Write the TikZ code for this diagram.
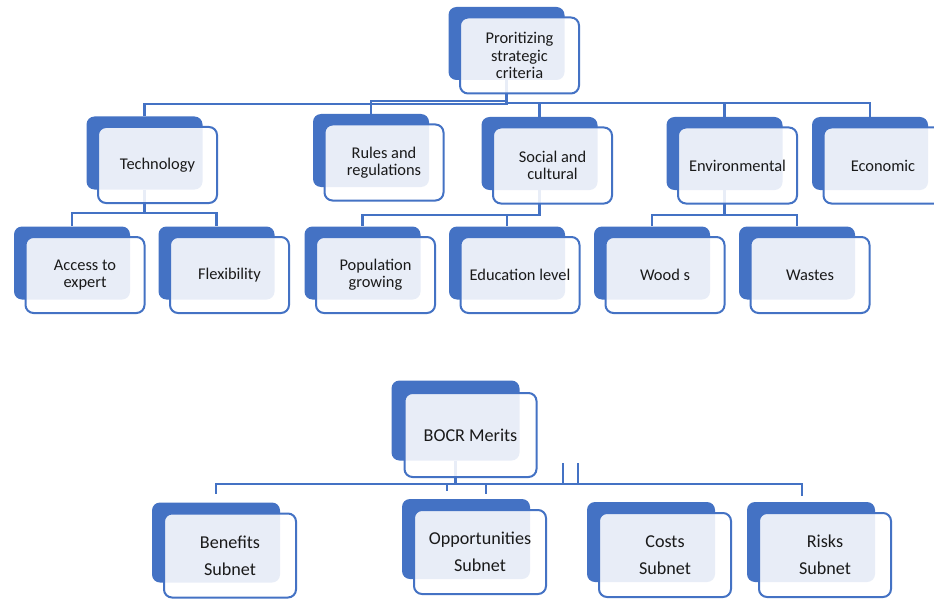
\documentclass[tikz,border=0pt]{standalone}
\usepackage{fontspec}
\setmainfont{Carlito}
\usetikzlibrary{calc}
\definecolor{acc}{HTML}{4472C4}
\definecolor{txt}{HTML}{1A1A1A}
\begin{document}
\begin{tikzpicture}[x=0.75pt,y=-0.75pt,
 bk/.style={fill=acc, rounded corners=6pt, inner sep=0pt},
 fr/.style={draw=acc, line width=1.5pt, rounded corners=6pt, fill=white, fill opacity=0.88, text opacity=1, text=txt, inner sep=0pt, align=center, font=\fontsize{12.3}{13}\selectfont},
 sA/.style={minimum width=87pt, minimum height=54.75pt},
 fA/.style={minimum width=89.25pt, minimum height=57pt},
 sB/.style={minimum width=96pt, minimum height=60pt},
 fB/.style={minimum width=99pt, minimum height=63pt, font=\fontsize{13.6}{20.5}\selectfont},
 conn/.style={draw=acc, line width=1.6pt}]
\useasboundingbox (0,0) rectangle (934,599);
\fill[white] (0,0) rectangle (934,599);

% back rectangles
\node[bk,sA] (top-b) at (506.5,43.5) {};
\node[bk,sA] (tech-b) at (144.5,153) {};
\node[bk,sA] (rules-b) at (371,150.5) {};
\node[bk,sA] (soc-b) at (539.5,153.5) {};
\node[bk,sA] (env-b) at (724.5,153.5) {};
\node[bk,sA] (eco-b) at (870,153.5) {};
\node[bk,sA] (acc-b) at (72,263) {};
\node[bk,sA] (flex-b) at (216.5,263) {};
\node[bk,sA] (pop-b) at (362.5,263) {};
\node[bk,sA] (edu-b) at (507,263) {};
\node[bk,sA] (wood-b) at (652,263) {};
\node[bk,sA] (waste-b) at (797,263) {};
\node[bk,sB] (bocr-b) at (455.5,420.5) {};
\node[bk,sB] (ben-b) at (216,542.5) {};
\node[bk,sB] (opp-b) at (466,539) {};
\node[bk,sB] (cost-b) at (651,542) {};
\node[bk,sB] (risk-b) at (811,542) {};

% connectors
\draw[conn] (top-b.south) -- ++(0,24) -| (tech-b.north);
\draw[conn] (top-b.south) -- ++(0,21) -| (rules-b.north);
\draw[conn] (top-b.south) -- ++(0,23) -| (soc-b.north);
\draw[conn] (top-b.south) -- ++(0,23) -| (env-b.north);
\draw[conn] (top-b.south) -- ++(0,23) -| (eco-b.north);
\draw[conn] (tech-b.south) -- ++(0,23) -| (acc-b.north);
\draw[conn] (tech-b.south) -- ++(0,23) -| (flex-b.north);
\draw[conn] (soc-b.south) -- ++(0,25) -| (pop-b.north);
\draw[conn] (soc-b.south) -- ++(0,25) -| (edu-b.north);
\draw[conn] (env-b.south) -- ++(0,25) -| (wood-b.north);
\draw[conn] (env-b.south) -- ++(0,25) -| (waste-b.north);

\coordinate (bus) at ($(bocr-b.south)+(0,23)$);
\draw[conn] (bocr-b.south) -- (bus) -| ($(ben-b.north)+(0,-8)$);
\draw[conn] (bus) -| ($(opp-b.north)+(-19,-8)$);
\draw[conn] (bus) -| ($(opp-b.north)+(20,-5)$);
\draw[conn] (bus) -| ($(risk-b.north)+(-9,-6)$);
\coordinate (s1) at (563,463);
\coordinate (s2) at (578,463);
\draw[conn] (s1) -- (s1 |- bus);
\draw[conn] (s2) -- (s2 |- bus);

% front rectangles with text
\node[fr,fA] (top) at ($(top-b)+(13,12)$) {Proritizing\\strategic\\criteria};
\node[fr,fA] (tech) at ($(tech-b)+(13,12)$) {Technology};
\node[fr,fA] (rules) at ($(rules-b)+(13,12)$) {Rules and\\regulations};
\node[fr,fA] (soc) at ($(soc-b)+(13,12)$) {Social and\\cultural};
\node[fr,fA] (env) at ($(env-b)+(13,12)$) {Environmental};
\node[fr,fA] (eco) at ($(eco-b)+(13,12)$) {Economic};
\node[fr,fA] (acc) at ($(acc-b)+(13,12)$) {Access to\\expert};
\node[fr,fA] (flex) at ($(flex-b)+(13,12)$) {Flexibility};
\node[fr,fA] (pop) at ($(pop-b)+(13,12)$) {Population\\growing};
\node[fr,fA] (edu) at ($(edu-b)+(13,12)$) {Education level};
\node[fr,fA] (wood) at ($(wood-b)+(13,12)$) {Wood s};
\node[fr,fA] (waste) at ($(waste-b)+(13,12)$) {Wastes};
\node[fr,fB] (bocr) at ($(bocr-b)+(15,14.5)$) {BOCR Merits};
\node[fr,fB] (ben) at ($(ben-b)+(14,13)$) {Benefits\\Subnet};
\node[fr,fB] (opp) at ($(opp-b)+(14,13)$) {Opportunities\\Subnet};
\node[fr,fB] (cost) at ($(cost-b)+(14,13)$) {Costs\\Subnet};
\node[fr,fB] (risk) at ($(risk-b)+(14,13)$) {Risks\\Subnet};
\end{tikzpicture}
\end{document}
